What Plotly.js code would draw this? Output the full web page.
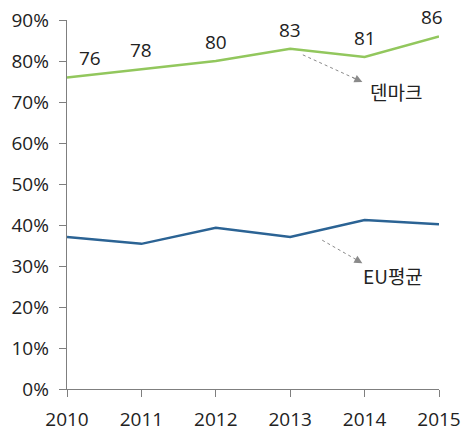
<!DOCTYPE html>
<html>
<head>
<meta charset="utf-8">
<script src="https://cdn.plot.ly/plotly-3.0.1.min.js"></script>
<style>html,body{margin:0;padding:0;background:#fff;}#chart{width:465px;height:440px;}</style>
</head>
<body>
<div id="chart"></div>
<script>
const years = [2010, 2011, 2012, 2013, 2014, 2015];
const denmark = [76, 78, 80, 83, 81, 86];
const euAvg = [37.1, 35.4, 39.3, 37.1, 41.2, 40.2];
const yTickVals = [0, 10, 20, 30, 40, 50, 60, 70, 80, 90];
const yTickText = ['0%', '10%', '20%', '30%', '40%', '50%', '60%', '70%', '80%', '90%'];
const denmarkName = '덴마크';
const euName = 'EU평균';

const numFont = {family: 'Open Sans, sans-serif', size: 19, color: '#222'};
const korFont = {family: 'Noto Sans CJK KR, sans-serif', size: 19, color: '#222'};

const traces = [
  {x: years, y: denmark, type: 'scatter', mode: 'lines', line: {color: '#92C75D', width: 2.5}, hoverinfo: 'skip'},
  {x: years, y: euAvg, type: 'scatter', mode: 'lines', line: {color: '#2B6394', width: 2.5}, hoverinfo: 'skip'}
];

const annotations = years.map((yr, i) => ({
  x: yr, y: denmark[i], xref: 'x', yref: 'y', text: String(denmark[i]),
  showarrow: false, font: numFont, yshift: 19,
  xshift: i === 0 ? 23 : (i === years.length - 1 ? -7 : 0)
}));

// callout arrows: dotted shaft (shape) + arrowhead (annotation)
const callouts = [
  {tail: [2013.17, 81.5], head: [2013.97, 74.9], label: denmarkName, at: [2014.42, 72.6]},
  {tail: [2013.43, 36.3], head: [2013.97, 30.7], label: euName, at: [2014.38, 27.6]}
];
const shapes = [];
callouts.forEach(c => {
  shapes.push({type: 'line', xref: 'x', yref: 'y', x0: c.tail[0], y0: c.tail[1], x1: c.head[0], y1: c.head[1],
    line: {color: '#8a8a8a', width: 1, dash: 'dot'}});
  const t = 0.8;
  annotations.push({x: c.head[0], y: c.head[1], xref: 'x', yref: 'y', axref: 'x', ayref: 'y',
    ax: c.tail[0] + (c.head[0] - c.tail[0]) * t, ay: c.tail[1] + (c.head[1] - c.tail[1]) * t,
    text: '', showarrow: true, arrowhead: 2, arrowsize: 1.6, arrowwidth: 1, arrowcolor: '#8a8a8a'});
  annotations.push({x: c.at[0], y: c.at[1], xref: 'x', yref: 'y', text: c.label, showarrow: false, font: korFont});
});

const layout = {
  width: 465, height: 440,
  margin: {l: 67, r: 26, t: 20, b: 51},
  paper_bgcolor: '#fff', plot_bgcolor: '#fff',
  showlegend: false,
  xaxis: {
    range: [2010, 2015], tickvals: years, ticktext: years.map(String),
    showgrid: false, zeroline: false, showline: true, linecolor: '#7f7f7f', linewidth: 1.3,
    ticks: 'outside', ticklen: 7, tickcolor: '#7f7f7f', tickfont: numFont, ticklabelstandoff: 6
  },
  yaxis: {
    range: [0, 90], tickvals: yTickVals, ticktext: yTickText,
    showgrid: false, zeroline: false, showline: true, linecolor: '#7f7f7f', linewidth: 1.3,
    ticks: 'outside', ticklen: 7, tickcolor: '#7f7f7f', tickfont: numFont, ticklabelstandoff: 6
  },
  shapes: shapes,
  annotations: annotations
};

Plotly.newPlot('chart', traces, layout, {staticPlot: true, displayModeBar: false});
</script>
</body>
</html>
